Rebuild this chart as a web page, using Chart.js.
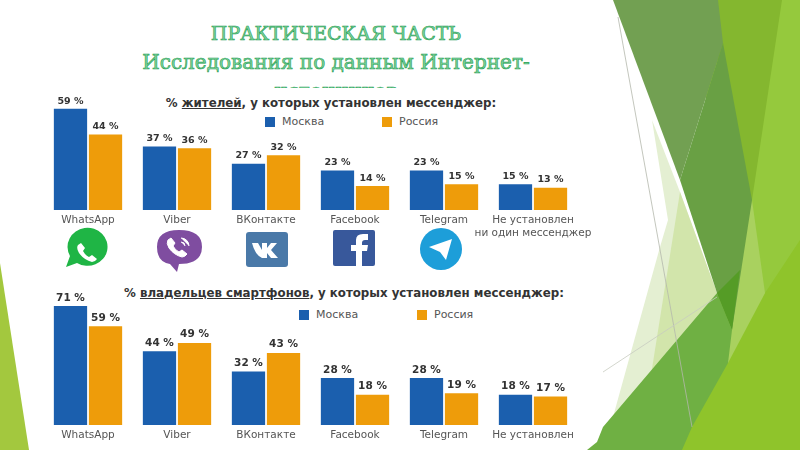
<!DOCTYPE html>
<html lang="ru">
<head>
<meta charset="utf-8">
<title>Мессенджеры</title>
<script src="https://cdn.jsdelivr.net/npm/chart.js@4"></script>
<style>
  html, body { margin: 0; padding: 0; background: #fff; }
  #slide { position: relative; width: 800px; height: 450px; overflow: hidden; font-family: "DejaVu Sans", sans-serif; }
  #slide > svg, #slide > canvas { position: absolute; left: 0; }
  #bg { top: 0; }
  #head { position: absolute; left: 36px; top: 0; width: 600px; height: 88px; overflow: hidden; text-align: center; opacity: 0.99;
    font-family: "DejaVu Serif", serif; font-size: 20px; line-height: 29px; color: #7fd49c; -webkit-text-stroke: 0.6px #1f9e52; padding-top: 19px; box-sizing: border-box; }
  #head b { font-weight: normal; font-size: 19px; display: inline-block; }
  .sub { position: absolute; font-weight: bold; font-size: 11.8px; color: #333; white-space: nowrap; transform: translateX(-50%); }
  .legend { position: absolute; font-size: 11px; color: #555; white-space: nowrap; }
  .legend i { position: absolute; width: 10px; height: 10px; top: 2px; }
  .legend span { position: absolute; top: 0; }
</style>
</head>
<body>
<div id="slide">
  <svg id="bg" width="800" height="450" viewBox="0 0 800 450">
    <polygon points="0,263 29,450 0,450" fill="#a3c83e"/>
    <polygon points="700,0 800,0 800,450 670,450 720,340" fill="#95c93d"/>
    <polygon points="710,0 782,0 752,200 735,200" fill="#84b72f"/>
    <polygon points="800,240 800,450 670,450 720,363 765,293" fill="#8fc42b"/>
    <polygon points="652,120 680,192 717,293 613,417 660,247 668,220" fill="#e4efd2"/>
    <polygon points="680,192 717,293 651,375" fill="#d2e5ab"/>
    <polygon points="752,200 765,293 728,363 725,330" fill="#a9d15f"/>
    <polygon points="613,0 718,0 723,43 680,180" fill="#72a052"/>
    <polygon points="723,43 752,200 732,330 717,293 680,180" fill="#69a044"/>
    <polygon points="603,427 717,293 732,330 728,363 692,427 682,450 587,450 597,442" fill="#6fb043"/>
    <polygon points="717,293 740,270 732,330" fill="#559c26"/>
    <line x1="618" y1="17" x2="692" y2="427" stroke="#b4b8ac" stroke-width="0.8"/>
    <line x1="603" y1="372" x2="717" y2="297" stroke="#c8ccc0" stroke-width="0.8"/>
    <!-- иконки -->
    <g transform="translate(-1,5)">
      <path d="M67 262 l4 -11 a20 19 0 1 1 7 7 z" fill="#1fb545"/>
      <path d="M79 240 q-2 3 1 8 q5 7 13 9 q3 0 5 -3 l-5 -4 l-3 2 q-4 -2 -6 -6 l2 -3 l-4 -5 z" fill="#fff"/>
    </g>
    <path d="M157 247 q0 -17 22 -17 q23 0 23 17 q0 17 -23 17 l-2 8 l-7 -8 q-13 -2 -13 -17 z" fill="#7f4da0"/>
    <path d="M168 240 q-2 3 1 8 q5 7 13 9 q3 0 5 -3 l-5 -4 l-3 2 q-4 -2 -6 -6 l2 -3 l-4 -5 z M181 238 a8 8 0 0 1 8 8 M181 242 a4 4 0 0 1 4 4" fill="#fff" stroke="#fff"/>
    <rect x="246" y="232" width="42" height="35" rx="3" fill="#4a79a8"/>
    <path d="M252 243 h6 l4 7 v-7 h5 v5 l4 -5 h6 l-6 7 l7 8 h-7 l-4 -5 v5 h-5 q-7 -3 -10 -15 z" fill="#fff"/>
    <rect x="333" y="230" width="42" height="36" rx="2" fill="#38589b"/>
    <path d="M356 266 v-15 h-5 v-6 h5 v-5 q0 -6 7 -6 h5 v6 h-3 q-3 0 -3 3 v2 h6 l-1 6 h-5 v15 z" fill="#fff"/>
    <circle cx="441" cy="249" r="21" fill="#1d9ed9"/>
    <path d="M429 247 l23 -8 l-6 21 l-6 -8 z" fill="#fff"/>
  </svg>
  <div id="head"><b>ПРАКТИЧЕСКАЯ ЧАСТЬ</b><br>Исследования по данным Интернет-<br>источников</div>

  <div class="sub" style="left:331px;top:96px"><span>% <u>жителей</u>, у которых установлен мессенджер:</span></div>
  <div class="legend" id="legendTop" style="left:265px;top:115px;width:180px;height:14px"></div>
  <canvas id="residentsChart" width="620" height="150" style="top:88px"></canvas>

  <div class="sub" style="left:344px;top:286px"><span>% <u>владельцев смартфонов</u>, у которых установлен мессенджер:</span></div>
  <div class="legend" id="legendBottom" style="left:299px;top:308px;width:180px;height:14px"></div>
  <canvas id="ownersChart" width="620" height="160" style="top:290px"></canvas>
</div>

<script>
const topCategories = ["WhatsApp", "Viber", "ВКонтакте", "Facebook", "Telegram", ["Не установлен", "ни один мессенджер"]];
const bottomCategories = ["WhatsApp", "Viber", "ВКонтакте", "Facebook", "Telegram", "Не установлен"];

const residentsMoscow = [59, 37, 27, 23, 23, 15];
const residentsRussia = [44, 36, 32, 14, 15, 13];
const ownersMoscow = [71, 44, 32, 28, 28, 18];
const ownersRussia = [59, 49, 43, 18, 19, 17];

const seriesNames = ["Москва", "Россия"];
const seriesColors = ["#1b5fae", "#ee9c0a"];

// подписи над столбиками
const barValues = {
  id: "barValues",
  afterDatasetsDraw(chart, args, opts) {
    const ctx = chart.ctx;
    ctx.save();
    ctx.font = opts.font;
    ctx.fillStyle = "#333";
    ctx.textAlign = "center";
    ctx.textBaseline = "bottom";
    chart.data.datasets.forEach((ds, i) => {
      chart.getDatasetMeta(i).data.forEach((bar, j) => {
        ctx.fillText(ds.data[j] + " %", bar.x, bar.y - 3);
      });
    });
    ctx.restore();
  },
};

function makeChart(id, labels, moscow, russia, yMax, plotTop, axisHeight, labelFont) {
  return new Chart(document.getElementById(id), {
    type: "bar",
    data: {
      labels: labels,
      datasets: [
        { label: seriesNames[0], data: moscow, backgroundColor: seriesColors[0] },
        { label: seriesNames[1], data: russia, backgroundColor: seriesColors[1] },
      ],
    },
    options: {
      responsive: false,
      animation: false,
      categoryPercentage: 0.787,
      barPercentage: 0.95,
      layout: { padding: { left: 43.5, right: 42.5, top: plotTop, bottom: 0 } },
      plugins: {
        legend: { display: false },
        tooltip: { enabled: false },
        barValues: { font: labelFont },
      },
      scales: {
        x: {
          grid: { display: false, drawTicks: false },
          border: { display: false },
          ticks: {
            autoSkip: false,
            maxRotation: 0,
            minRotation: 0,
            padding: 4,
            color: "#555",
            font: { family: "DejaVu Sans", size: 10.5 },
          },
          afterFit: (scale) => { scale.height = axisHeight; },
        },
        y: { display: false, min: 0, max: yMax },
      },
    },
    plugins: [barValues],
  });
}

function fillLegend(el, chart, secondX) {
  chart.data.datasets.forEach((ds, i) => {
    const x = i === 0 ? 0 : secondX;
    el.innerHTML += `<i style="left:${x}px;background:${ds.backgroundColor}"></i><span style="left:${x + 17}px">${ds.label}</span>`;
  });
}

const residents = makeChart("residentsChart", topCategories, residentsMoscow, residentsRussia, 70, 2, 28, "bold 9.5px 'DejaVu Sans'");
const owners = makeChart("ownersChart", bottomCategories, ownersMoscow, ownersRussia, 80, 1, 25, "bold 10.5px 'DejaVu Sans'");
fillLegend(document.getElementById("legendTop"), residents, 117);
fillLegend(document.getElementById("legendBottom"), owners, 118);
</script>
</body>
</html>
